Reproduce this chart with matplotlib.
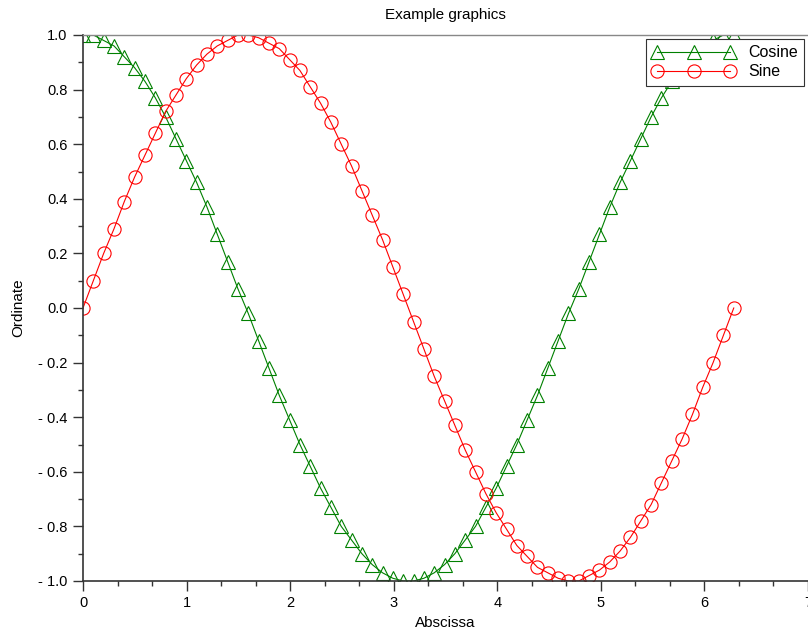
import numpy as np
import matplotlib
matplotlib.use("Agg")
import matplotlib.pyplot as plt
from matplotlib.ticker import MultipleLocator, FuncFormatter

plt.rcParams['font.family'] = ['Liberation Sans', 'DejaVu Sans']

# 64 samples over [0, 2*pi]
x = np.linspace(0, 6.2832, 64)

sine = [0.00, 0.10, 0.20, 0.29, 0.39, 0.48, 0.56, 0.64, 0.72, 0.78, 0.84, 0.89,
        0.93, 0.96, 0.98, 1.00, 1.00, 0.99, 0.97, 0.95, 0.91, 0.87, 0.81, 0.75,
        0.68, 0.60, 0.52, 0.43, 0.34, 0.25, 0.15, 0.05,
        -0.05, -0.15, -0.25, -0.34, -0.43, -0.52, -0.60, -0.68, -0.75, -0.81,
        -0.87, -0.91, -0.95, -0.97, -0.99, -1.00, -1.00, -0.98, -0.96, -0.93,
        -0.89, -0.84, -0.78, -0.72, -0.64, -0.56, -0.48, -0.39, -0.29, -0.20,
        -0.10, 0.00]

cosine = [1.00, 1.00, 0.98, 0.96, 0.92, 0.88, 0.83, 0.77, 0.70, 0.62, 0.54, 0.46,
          0.37, 0.27, 0.17, 0.07, -0.02, -0.12, -0.22, -0.32, -0.41, -0.50, -0.58,
          -0.66, -0.73, -0.80, -0.85, -0.90, -0.94, -0.97, -0.99, -1.00,
          -1.00, -0.99, -0.97, -0.94, -0.90, -0.85, -0.80, -0.73, -0.66, -0.58,
          -0.50, -0.41, -0.32, -0.22, -0.12, -0.02, 0.07, 0.17, 0.27, 0.37, 0.46,
          0.54, 0.62, 0.70, 0.77, 0.83, 0.88, 0.92, 0.96, 0.98, 1.00, 1.00]

fig = plt.figure(figsize=(8.08, 6.32), dpi=100)
ax = fig.add_axes([83 / 808, 1 - 581 / 632, 725 / 808, 546 / 632])

ax.plot(x, cosine, color='#008000', lw=0.8, marker='^', ms=10, mfc='none',
        mew=0.8, label='Cosine')
ax.plot(x, sine, color='#ff0000', lw=0.8, marker='o', ms=9.5, mfc='none',
        mew=0.8, label='Sine')

ax.set_xlim(0, 7)
ax.set_ylim(-1, 1)
ax.xaxis.set_major_locator(MultipleLocator(1))
ax.xaxis.set_minor_locator(MultipleLocator(1 / 3))
ax.yaxis.set_major_locator(MultipleLocator(0.2))
ax.yaxis.set_minor_locator(MultipleLocator(0.1))


def yfmt(v, pos):
    s = f"{abs(v):.1f}"
    return f"- {s}" if v < -1e-9 else s


ax.yaxis.set_major_formatter(FuncFormatter(yfmt))
ax.tick_params(which='major', direction='out', length=7, width=1, color='#333333',
               labelsize=10.5, pad=4)
ax.tick_params(which='minor', direction='out', length=3.5, width=1, color='#333333')

for side in ('left', 'bottom'):
    ax.spines[side].set_color('#333333')
    ax.spines[side].set_linewidth(1.2)
ax.spines['top'].set_color('#888888')
ax.spines['top'].set_linewidth(1)
ax.spines['right'].set_visible(False)

fig.text(445 / 808, 1 - 15 / 632, 'Example graphics', fontsize=11,
         ha='center', va='center')
fig.text(445 / 808, 1 - 623 / 632, 'Abscissa', fontsize=11,
         ha='center', va='center')
fig.text(18 / 808, 1 - 308 / 632, 'Ordinate', fontsize=11, rotation=90,
         ha='center', va='center')

leg = ax.legend(loc='upper right', numpoints=3, fontsize=11.5, fancybox=False,
                framealpha=1, edgecolor='#333333', borderaxespad=0.25,
                handlelength=5.2, handletextpad=0.8, borderpad=0.4,
                labelspacing=0.25)
leg.get_frame().set_linewidth(0.8)

fig.savefig('out.png', dpi=100)
